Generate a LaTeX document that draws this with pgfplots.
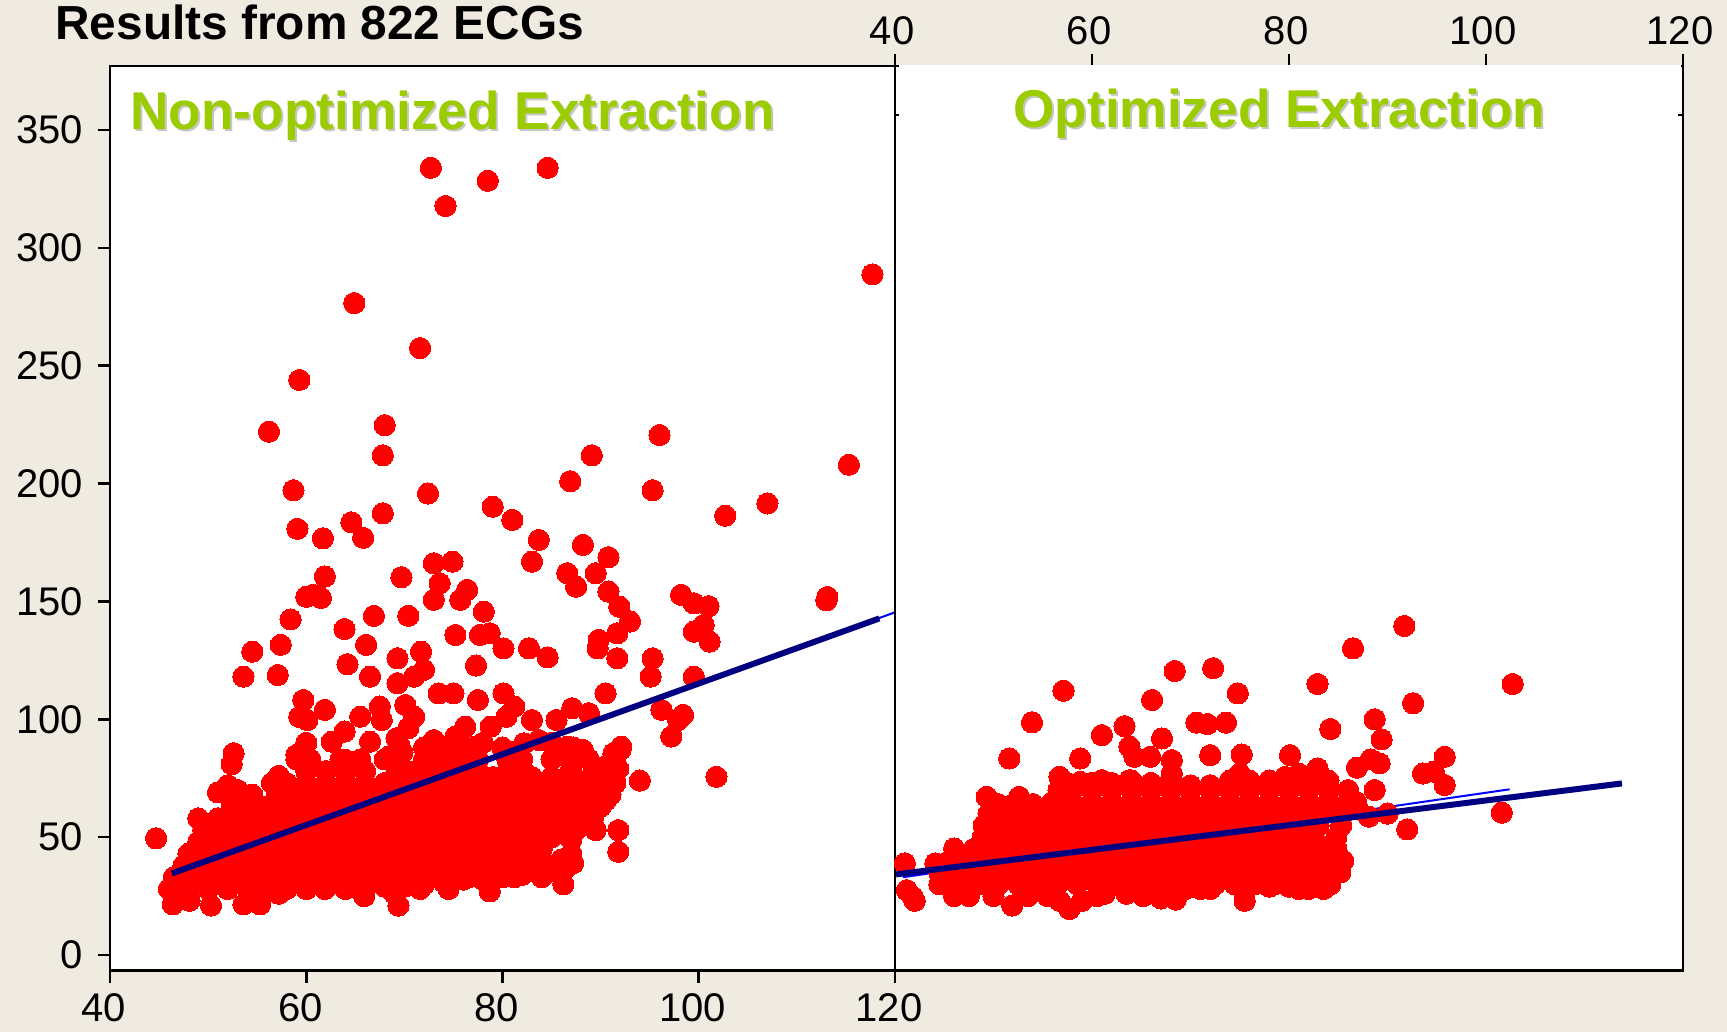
\documentclass[border=0pt]{standalone}
\usepackage{pgfplots}
\usepackage{fontspec}
\setmainfont{Liberation Sans}
\pgfplotsset{compat=1.18}
\definecolor{bg}{HTML}{F0EBE0}
\definecolor{lime}{HTML}{9ACC00}
\definecolor{fit}{HTML}{000080}
\pgfplotsset{
  panel/.style={
    scale only axis, height=452.35pt, ymin=-6.66, ymax=377.2, xmin=40, xmax=120,
    xtick={40,60,80,100,120}, axis background/.style={fill=white},
    axis line style={line width=1.25pt}, tick style={line width=1.3pt,black},
    tick align=outside, major tick length=6pt, clip=true, clip mode=individual,
    /pgf/number format/assume math mode=true,
    tick label style={font=\fontsize{20}{20}\selectfont},
    scatter dots/.style={red, only marks, mark=*, mark size=5.3pt, mark options={draw=red,fill=red,line width=0pt}},
  }}
\begin{document}
\begin{tikzpicture}
\fill[bg] (0pt,0pt) rectangle (863.5pt,516pt);
\path[use as bounding box] (0pt,0pt) rectangle (863.5pt,516pt);
\begin{axis}[panel, at={(55pt,30.65pt)}, anchor=south west, width=392.5pt,
  xtick pos=bottom, ytick pos=left, ytick={0,50,...,350},
  x tick label style={xshift=-3pt, yshift=-2pt}, y tick label style={xshift=-4pt}]
\addplot[blue,line width=1pt] coordinates {(46.3,34) (120,145.4)};
\addplot[scatter dots] coordinates {
(44.7,49.5) (72.7,334) (78.5,328.5) (84.6,334) (74.2,317.8) (117.7,288.8) (64.9,276.6) (71.6,257.5) (59.3,244) (56.2,222)
(68,224.8) (67.8,212) (96,220.6) (89.1,212) (115.3,208) (58.7,197.2) (72.4,195.8) (86.9,201) (95.3,197.2) (79,190.2)
(81,184.6) (102.7,186.4) (107,191.6) (67.8,187.4) (64.6,183.6) (65.8,177) (59.1,180.8) (61.7,176.8) (83.7,176.1) (88.2,174)
(83,166.9) (90.8,168.8) (89.5,162) (86.6,162) (87.5,156.3) (90.8,154.2) (91.9,147.8) (93,141.5) (91.7,136.5) (89.8,133.7)
(89.7,130.1) (91.7,125.9) (98.2,152.8) (99.5,149.2) (99.5,137.2) (101.1,133) (95.3,125.9) (95.1,118.1) (99.5,118.1) (90.5,111)
(96.2,104) (98.4,101.9) (97.9,99.7) (97.2,92.7) (92.1,88.4) (91.3,85.6) (61.9,160.6) (60.7,152.8) (60,152) (61.5,151.5)
(69.7,160.3) (73,166.2) (74.9,166.9) (73.6,157.7) (73,150.7) (76.4,154.9) (75.7,150.7) (78.1,145.7) (78.7,136.5) (75.2,135.8)
(77.7,135.8) (80.1,130.1) (82.7,130.1) (84.6,126.3) (77.3,122.8) (58.4,142.4) (66.9,143.9) (70.4,143.9) (63.9,138.3) (57.4,131.6)
(54.5,128.7) (66.1,131.6) (53.6,118.1) (57.1,118.8) (64.2,123.4) (66.5,118.1) (69.3,125.9) (71.7,128.7) (72,121) (69.3,115.3)
(71,118.1) (73.5,111) (75,111) (77.5,108.2) (80.1,111) (81.2,105.4) (80.4,101.1) (78.8,96.9) (83,99.7) (87.1,104.7)
(88.8,102.6) (85.5,99.7) (59.7,108.2) (61.9,104) (60.1,99.7) (59.3,101) (67.5,105.4) (65.5,101.1) (67.7,99.7) (70.1,106.1)
(71,101.1) (70.4,96.2) (63.9,94.8) (62.6,90.5) (66.5,90.5) (69.2,92) (76.2,96.9) (73,91.2) (75.2,92.7) (77.2,88.4)
(52.6,85.6) (59,84.9) (64,82.8) (68.4,84.2) (88.2,87) (86.6,88.4) (83.7,91.2) (72.4,85.6) (113.1,151.9) (101.8,75.6)
(94,74) (91.8,53) (91.8,43.8) (92,87) (90.7,80.6) (101,148) (100.5,140) (113,150.5)
(72,88) (74,88) (75.8,89) (74.5,86) (78,90) (81,86) (82.2,89.8) (80,88) (87.2,88) (85,90) (69.8,86) (69.5,89) (60,90) (52.4,81)
(46.4,21.5) (48.1,23) (50.3,21) (53.6,21.5) (55.3,21.5) (57.2,26) (61.9,28) (65.9,25) (69.4,21) (71.6,28) (74.5,28) (78.7,27) (81.2,33) (86.2,30) (69,26)
(46,28) (48,28) (50,28) (52,28) (54,28) (56,28) (58,28) (60,28) (62,29) (64,28) (66,29) (68,29) (70,29) (72,30) (74,31) (76,32) (78,32) (80,33) (82,34) (84,33) (86,34)
(46.5,33) (48.5,33) (50.5,33) (52.5,33) (54.5,33) (56.5,33) (58.5,33) (60.5,33) (62.5,33) (64.5,33) (66.5,33) (68.5,33) (70.5,33) (72.5,33) (74.5,33) (76.5,33) (78.5,35) (80.5,35) (82.5,38) (84.5,37) (86.5,37)
(47.5,38) (49.5,38) (51.5,38) (53.5,38) (55.5,38) (57.5,38) (59.5,38) (61.5,38) (63.5,38) (65.5,38) (67.5,38) (69.5,38) (71.5,38) (73.5,38) (75.5,38) (77.5,38) (79.5,38) (81.5,38) (83.5,38) (85.5,38) (87.2,39)
(48,43) (50,43) (52,43) (54,43) (56,43) (58,43) (60,43) (62,43) (64,43) (66,43) (68,43) (70,43) (72,43) (74,43) (76,43) (78,43) (80,43) (82,43) (84,45) (87,43)
(49,48) (51,48) (53,48) (55,48) (57,48) (59,48) (61,48) (63,48) (65,48) (67,48) (69,48) (71,48) (73,48) (75,48) (77,48) (79,48) (81,48) (83,48) (85,50) (87,49)
(49.5,53) (51.5,53) (53.5,53) (55.5,53) (57.5,53) (59.5,53) (61.5,53) (63.5,53) (65.5,53) (67.5,53) (69.5,53) (71.5,53) (73.5,53) (75.5,53) (77.5,53) (79.5,53) (81.5,53) (83.5,53) (85.5,54) (87.5,53) (89.5,53)
(49,58) (51,58) (53,58) (55,58) (57,58) (59,58) (61,58) (63,58) (65,58) (67,58) (69,58) (71,58) (73,58) (75,58) (77,58) (79,58) (81,58) (83,58) (85,58) (87,58) (89.2,58)
(52.4,63) (54,63) (56,63) (58,63) (60,63) (62,63) (64,63) (66,63) (68,63) (70,63) (72,63) (74,63) (76,63) (78,63) (80,63) (82,63) (84,63) (86,63) (88,63) (90,63)
(51,69) (53,70) (54.5,68) (57,68) (59,68) (61,68) (63,68) (65,68) (67,68) (69,68) (71,68) (73,68) (75,68) (77,68) (79,68) (81,68) (83,68) (85,68) (87,68) (89,68) (91,68)
(52,72) (56.5,73) (58,73) (60,73) (62,73) (64,73) (66,73) (68,73) (70,73) (72,73) (74,73) (76,73) (78,73) (80,73) (82,73) (84,73) (86,73) (88,73) (90,73) (91.5,73)
(57.2,76) (60,78) (62,78) (64,78) (66,78) (71,78) (73,78) (75,78) (77.5,78) (80.5,78) (82.2,78) (87,79) (90,78) (91.8,79)
(59,83) (60.4,83) (63.5,83) (65.5,83) (68,83) (69.5,83) (72,83) (74,83) (76,83) (77.5,83) (80.5,83) (82,83) (85,83) (87,83) (88.8,83) (91.5,84)
(71,65.5) (73,65.5) (75,65.5) (77,65.5) (79,65.5) (81,65.5) (83,65.5) (85,65.5) (87,65.5) (89,65.5) (90.5,65.5)
(70,70.5) (72,70.5) (74,70.5) (76,70.5) (78,70.5) (80,70.5) (82,70.5) (84,70.5) (86,70.5) (88,70.5) (90,70.5)
(69,75.5) (71,75.5) (73,75.5) (75,75.5) (77,75.5) (79,75.5) (81,75.5) (83,75.5) (85,75.5) (87,75.5) (89,75.5) (91,75.5)
(78,60.5) (80,60.5) (82,60.5) (84,60.5) (86,60.5) (88,60.5) (77,55.5) (79,55.5) (81,55.5) (83,55.5) (85,55.5) (87,55.5)
(66,45.5) (68,45.5) (70,45.5) (72,45.5) (74,45.5) (76,45.5) (78,45.5) (80,45.5) (82,45.5) (70,40.5) (72,40.5) (74,40.5) (76,40.5) (78,40.5) (80,40.5) (82,40.5) (84,40.5) (86,40.5)
};
\addplot[fit,line width=3pt] coordinates {(46.3,34.6) (118.4,142.8)};
\end{axis}
\begin{axis}[panel, at={(447.5pt,30.65pt)}, anchor=south west, width=394pt,
  xtick pos=top, xticklabel pos=top, ytick=\empty,
  x tick label style={xshift=-1.5pt, yshift=1pt}]
\addplot[blue,line width=1pt] coordinates {(40.8,33) (102.4,70.3)};
\addplot[scatter dots] coordinates {
(91.7,139.6) (86.5,130.1) (82.9,115) (102.7,115) (92.6,106.8) (68.4,120.5) (72.3,121.7) (74.8,111) (66.1,108.2) (57.1,112.1)
(53.9,98.7) (88.7,100) (84.2,95.9) (89.4,91.5) (70.6,98.6) (71.7,98) (73.6,98.6) (63.3,97.1) (61,93.3) (67.1,91.9)
(72,84.8) (75.2,85.1) (80.1,84.8) (58.8,83.4) (51.6,83.4) (63.8,88.4) (64.3,84.1) (65.9,84.1) (68.1,82.7) (95.8,84.1)
(94.7,77.8) (93.6,77) (95.8,72.1) (89.2,81.3) (88.3,83) (86.9,79.5) (82.9,79.2) (88.7,70) (49.3,67.1) (52.6,67.1)
(56.7,75.6) (58.8,73.5) (61,74.2) (63.8,74.2) (75,77) (68.1,77) (79.6,75.6) (81,77) (101.6,60.4) (92,53.3) (90,60) (88.1,58.7)
(41,38.9) (44.1,38.9) (41.8,24.7) (41.2,27.5) (42,23) (46,45.2) (48.3,45.2)
(46,25) (47.5,25) (50,25) (51.9,21) (53.5,25) (55.5,25) (56.7,23) (57.7,19.5) (59,23) (60.5,25) (61.3,26) (63.5,26) (65.2,25) (67,24) (68.5,23.5) (69.5,28) (71,28) (72,28) (75.5,23) (75.5,27) (78,29) (80,29) (81,28) (82,28) (83.5,28)
(44.5,30) (46.5,30) (48.5,30) (50.5,30) (52.5,30) (54.5,30) (56.5,30) (58.5,30) (60.5,30) (62.5,30) (64.5,30) (66.5,30) (68.5,30) (70.5,30) (72.5,30) (74.5,30) (76.5,30) (78.5,30) (80.5,30) (82.5,30) (84.2,30)
(44.5,35) (46,35) (48,35) (50,35) (52,35) (54,35) (56,35) (58,35) (60,35) (62,35) (64,35) (66,35) (68,35) (70,35) (72,35) (74,35) (76,35) (78,35) (80,35) (82,35) (84,35) (85.2,35)
(45.5,40) (47.5,40) (49.5,40) (51.5,40) (53.5,40) (55.5,40) (57.5,40) (59.5,40) (61.5,40) (63.5,40) (65.5,40) (67.5,40) (69.5,40) (71.5,40) (73.5,40) (75.5,40) (77.5,40) (79.5,40) (81.5,40) (83.5,40) (85.5,40)
(48,45) (50,45) (52,45) (54,45) (56,45) (58,45) (60,45) (62,45) (64,45) (66,45) (68,45) (70,45) (72,45) (74,45) (76,45) (78,45) (80,45) (82,45) (84,45) (84.8,45)
(48.9,50) (50.5,50) (52.5,50) (54.5,50) (56.5,50) (58.5,50) (60.5,50) (62.5,50) (64.5,50) (66.5,50) (68.5,50) (70.5,50) (72.5,50) (74.5,50) (76.5,50) (78.5,50) (80.5,50) (82.5,50) (84.8,50)
(49,55) (51,55) (53,55) (55,55) (57,55) (59,55) (61,55) (63,55) (65,55) (67,55) (69,55) (71,55) (73,55) (75,55) (77,55) (79,55) (81,55) (83,55) (85.3,55)
(49.5,60) (51.5,60) (53.5,60) (55.5,60) (57.5,60) (59.5,60) (61.5,60) (63.5,60) (65.5,60) (67.5,60) (69.5,60) (71.5,60) (73.5,60) (75.5,60) (77.5,60) (79.5,60) (81.5,60) (83.5,60) (85.5,60) (87,62)
(50.5,64) (52,64) (54,64) (56,65) (58,65) (60,65) (62,65) (64,65) (66,65) (68,65) (70,65) (72,65) (74,65) (76,65) (78,65) (80,65) (82,65) (84,65) (86,65) (86.8,65)
(56.6,70) (58,70) (60,70) (62,70) (64,70) (66,70) (68,70) (70,70) (72,70) (74,70) (76,70) (78,70) (80,70) (82,70) (84,70) (86,70)
(57.5,73) (60,73) (62,73) (64,74) (66,73) (68,74) (70,72) (72,72) (74,74) (76,74) (78,74) (80,74) (82,74) (84,74)
};
\addplot[fit,line width=3pt] coordinates {(40.1,34.2) (113.8,72.8)};
\end{axis}
% white label box over the top of the right panel
\fill[white] (448.2pt,441.2pt) rectangle (840.6pt,483.7pt);
\draw[line width=1.2pt] (447.5pt,483pt) -- (449.5pt,483pt);
\draw[line width=1.2pt] (447.5pt,458.5pt) -- (449.5pt,458.5pt);
\draw[line width=1.2pt] (841.5pt,458.5pt) -- (838.8pt,458.5pt);
\draw[line width=1.25pt] (841.5pt,441.2pt) -- (841.5pt,483pt);
\node[anchor=base west,inner sep=0pt,font=\fontsize{23.9}{24}\selectfont\bfseries,black] at (27.5pt,496pt) {Results from 822 ECGs};
\node[anchor=base west,inner sep=0pt,font=\fontsize{26.6}{27}\selectfont\bfseries,black!22] at (66pt,450pt) {Non-optimized Extraction};
\node[anchor=base west,inner sep=0pt,font=\fontsize{26.6}{27}\selectfont\bfseries,lime] at (65pt,451pt) {Non-optimized Extraction};
\node[anchor=base west,inner sep=0pt,font=\fontsize{26.6}{27}\selectfont\bfseries,black!22] at (507.5pt,451pt) {Optimized Extraction};
\node[anchor=base west,inner sep=0pt,font=\fontsize{26.6}{27}\selectfont\bfseries,lime] at (506.5pt,452pt) {Optimized Extraction};
\end{tikzpicture}
\end{document}
